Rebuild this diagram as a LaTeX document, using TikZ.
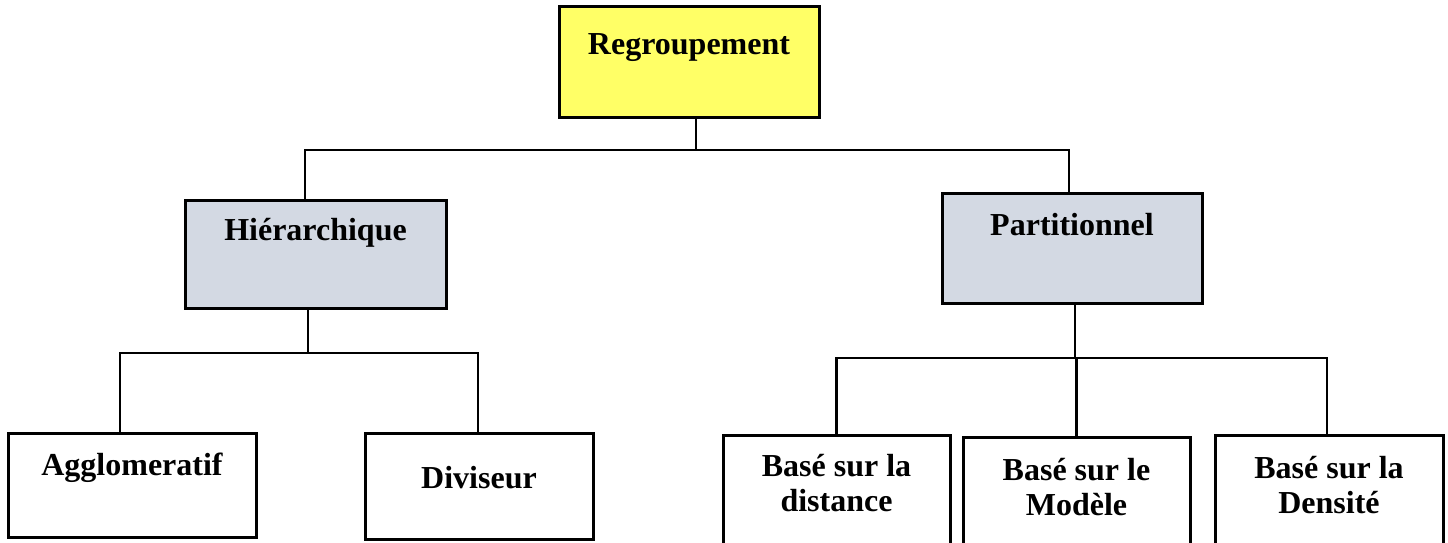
\documentclass[tikz,border=0pt]{standalone}
\usepackage{fontspec}
\setmainfont{Liberation Serif}
\definecolor{regyellow}{HTML}{FFFF66}
\definecolor{catgrey}{HTML}{D3D9E3}
\begin{document}
\begin{tikzpicture}[x=1pt,y=-1pt,
  box/.style={draw=black, line width=3pt, rectangle, inner sep=0pt},
  lbl/.style={font=\fontsize{32}{35}\selectfont\bfseries, align=center, anchor=base, inner sep=0pt},
  conn/.style={draw=black, line width=2.8pt}]
\useasboundingbox (0,0) rectangle (1448,543);
\clip (0,0) rectangle (1448,543);
\fill[white] (0,0) rectangle (1448,543);
% boxes
\node[box, fill=regyellow, minimum width=260pt, minimum height=110pt] (reg) at (689,62) {};
\node[box, fill=catgrey, minimum width=261pt, minimum height=108pt] (hier) at (315.5,254) {};
\node[box, fill=catgrey, minimum width=260pt, minimum height=110pt] (part) at (1072,248) {};
\node[box, minimum width=248pt, minimum height=104pt] (agg) at (132,485) {};
\node[box, minimum width=228pt, minimum height=106pt] (div) at (479,486) {};
\node[box, minimum width=227pt, minimum height=130pt] (dist) at (836.5,500) {};
\node[box, minimum width=227pt, minimum height=130pt] (mod) at (1076.5,502) {};
\node[box, minimum width=228pt, minimum height=130pt] (dens) at (1329,500) {};
% labels
\node[lbl] (treg) at (689,55) {Regroupement};
\node[lbl] (thier) at (315.5,240) {Hiérarchique};
\node[lbl] (tpart) at (1072,235) {Partitionnel};
\node[lbl] (tagg) at (132,475) {Agglomeratif};
\node[lbl] (tdiv) at (479,488) {Diviseur};
\node[lbl] (tdist) at (836.5,511) {Basé sur la\\distance};
\node[lbl] (tmod) at (1076.5,515) {Basé sur le\\Modèle};
\node[lbl] (tdens) at (1329,513) {Basé sur la\\Densité};
% connectors
\coordinate (j1) at (696,150);
\coordinate (j2) at (308,353);
\coordinate (j3) at (1075,358);
\draw[conn] (reg.south -| j1) -- (j1);
\draw[conn] ([xshift=-10.5pt]hier.north) |- (j1) -| ([xshift=-3pt]part.north);
\draw[conn] (hier.south -| j2) -- (j2);
\draw[conn] ([xshift=-12pt]agg.north) |- (j2) -| ([xshift=-1pt]div.north);
\draw[conn] (part.south -| j3) -- (j3);
\draw[conn] (dist.north) |- (j3) -| ([xshift=-2pt]dens.north);
\draw[conn] (mod.north) -- (mod.north |- j3);
\end{tikzpicture}
\end{document}
